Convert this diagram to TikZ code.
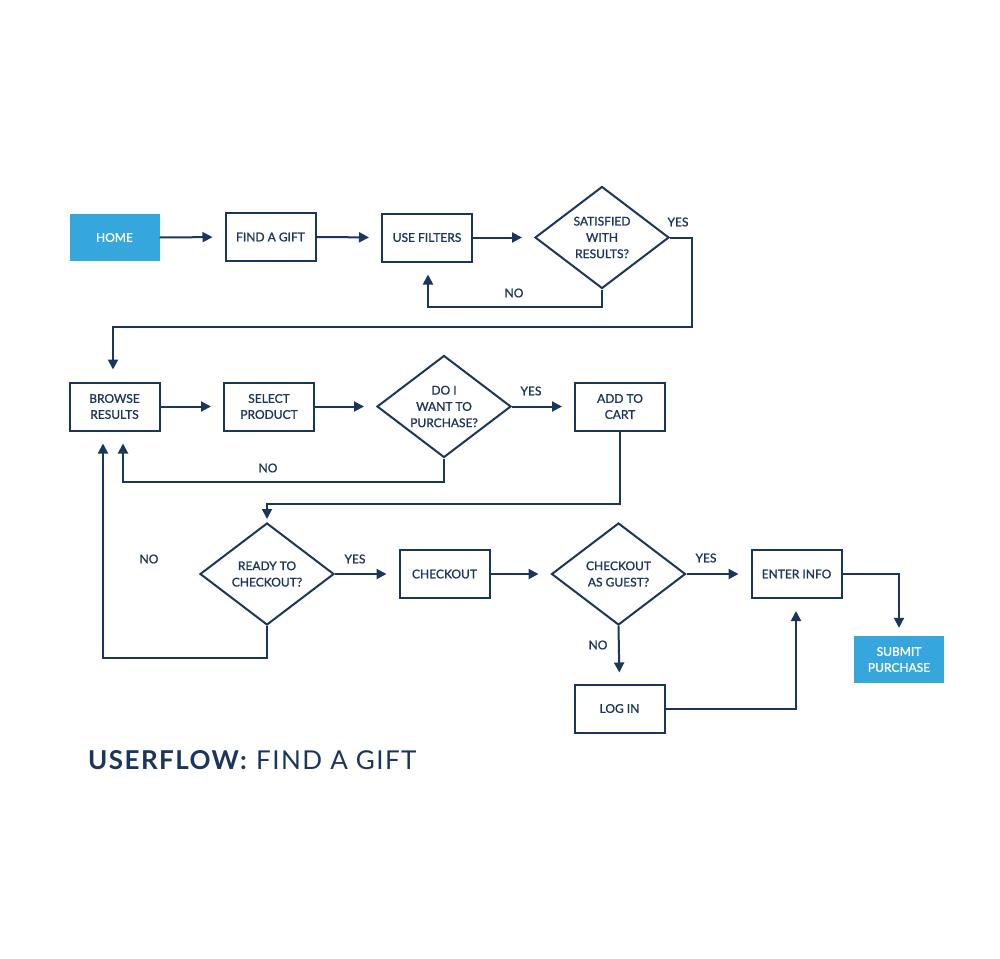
\documentclass[tikz,border=0pt]{standalone}
\usepackage{fontspec}
\setmainfont{Lato}
\newfontfamily\labelfont[FakeBold=1.2]{Lato}
\usetikzlibrary{arrows.meta,shapes.geometric}
\definecolor{navy}{HTML}{1B365D}
\definecolor{skyblue}{HTML}{35A7DC}
\begin{document}
\begin{tikzpicture}[x=1pt,y=-1pt,
  every node/.style={font=\labelfont\fontsize{12}{16}\selectfont, text=navy},
  box/.style={draw=navy, line width=2pt, rectangle, minimum width=90pt, minimum height=48pt, inner sep=0pt, align=center},
  bluebox/.style={fill=skyblue, rectangle, minimum width=90pt, minimum height=47pt, inner sep=0pt, align=center, text=white},
  dia/.style={draw=navy, line width=2pt, diamond, minimum width=134pt, minimum height=102pt, inner sep=0pt},
  diatext/.style={inner sep=0pt, align=center, font=\labelfont\fontsize{12}{16.3}\selectfont},
  lbl/.style={font=\labelfont\fontsize{12}{14}\selectfont, text=navy},
  flow/.style={draw=navy, line width=2pt, -{Triangle[length=10pt,width=10pt]}, shorten >=12pt},
  conn/.style={draw=navy, line width=2pt}
]
\useasboundingbox (0,0) rectangle (1000,958);
% row 1
\node[bluebox] (home) at (114.5,237.5) {HOME};
\node[box] (find) at (270.5,237) {FIND A GIFT};
\node[box] (filters) at (427,237.5) {USE FILTERS};
\node[dia] (sat) at (602,237.5) {};
\node[diatext] (sat-t) at (sat.center) {SATISFIED\\WITH\\RESULTS?};
% row 2
\node[box] (browse) at (114.5,406.5) {BROWSE\\RESULTS};
\node[box] (select) at (269,406.5) {SELECT\\PRODUCT};
\node[dia] (want) at (444,406.5) {};
\node[diatext] (want-t) at (want.center) {DO I\\WANT TO\\PURCHASE?};
\node[box] (cart) at (620,406.5) {ADD TO\\CART};
% row 3
\node[dia] (ready) at (267,574) {};
\node[diatext] (ready-t) at (ready.center) {READY TO\\CHECKOUT?};
\node[box] (checkout) at (444.5,574) {CHECKOUT};
\node[dia] (guest) at (618.5,574) {};
\node[diatext] (guest-t) at (guest.center) {CHECKOUT\\AS GUEST?};
\node[box] (enter) at (796.5,574) {ENTER INFO};
\node[bluebox] (submit) at (899,659.5) {SUBMIT\\PURCHASE};
\node[box] (login) at (619.5,708.5) {LOG IN};
% helper coordinates
\coordinate (c1) at (692,327);
\coordinate (c2) at (620,504);
% connectors
\draw[flow] (home.east) -- (find.west);
\draw[flow] (find.east) -- (filters.west);
\draw[flow] (filters.east) -- (sat.west);
\draw[flow] (sat.south) -- ++(0,17) -| ([xshift=1pt]filters.south);
\draw[flow] (sat.east) -| (c1) -| ([xshift=-1.5pt]browse.north);
\draw[flow] (browse.east) -- (select.west);
\draw[flow] (select.east) -- (want.west);
\draw[flow] (want.east) -- (cart.west);
\draw[flow] (want.south) -- ++(0,23) -| ([xshift=8.5pt]browse.south);
\draw[flow, shorten >=3pt] (cart.south) -- (c2) -| (ready.north);
\draw[flow] (ready.east) -- (checkout.west);
\draw[flow] (ready.south) -- ++(0,32) -| ([xshift=-11.5pt]browse.south);
\draw[flow] (checkout.east) -- (guest.west);
\draw[flow] (guest.east) -- (enter.west);
\draw[flow, shorten >=11pt] (guest.south) -- (login.north);
\draw[flow] (login.east) -| ([xshift=-0.5pt]enter.south);
\draw[flow, shorten >=8pt] (enter.east) -| (submit.north);
% labels
\node[lbl] (y1) at (678,222) {YES};
\node[lbl] (n1) at (514,293) {NO};
\node[lbl] (y2) at (531,391) {YES};
\node[lbl] (n2) at (268,468) {NO};
\node[lbl] (y3) at (355,559) {YES};
\node[lbl] (n3) at (149,559) {NO};
\node[lbl] (y4) at (706,558) {YES};
\node[lbl] (n4) at (598,645) {NO};
% title
\node[anchor=base west, inner sep=0pt, font=\fontsize{26}{30}\selectfont, text=navy] (title) at (88,769.5)
  {\addfontfeature{LetterSpace=5.5}\textbf{USERFLOW:} FIND A GIFT};
\end{tikzpicture}
\end{document}
